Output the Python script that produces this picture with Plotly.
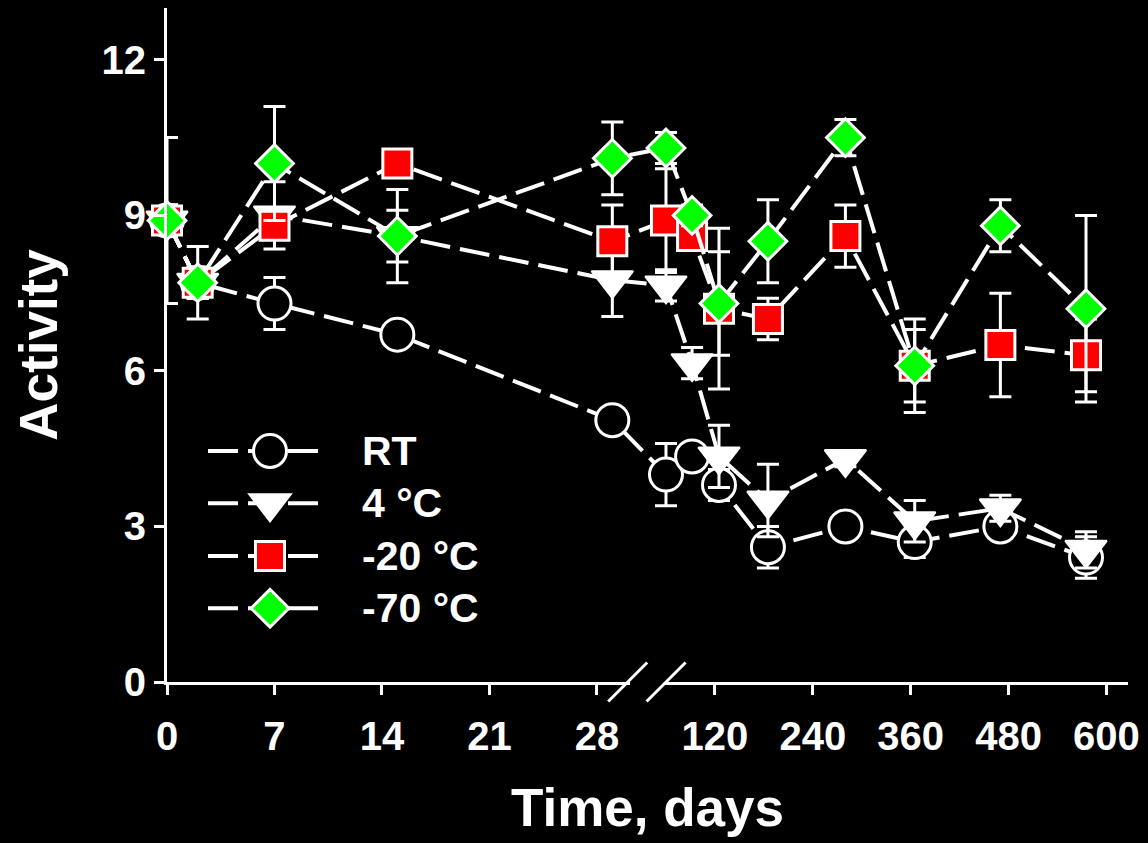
import plotly.graph_objects as go

# ---------------- data ----------------
days = [0, 2, 7, 15, 29, 60, 92, 125, 185, 280, 365, 470, 575]
series_names = ["RT", "4 °C", "-20 °C", "-70 °C"]

rt_vals = [8.9, 7.7, 7.3, 6.7, 5.05, 4.0, 4.35, 3.8, 2.6, 3.0, 2.7, 3.0, 2.4]
rt_err = [1.6, 0.7, 0.5, 0.1, 0.1, 0.6, 0.1, 0.3, 0.4, 0.15, 0.3, 0.2, 0.4]

c4_vals = [8.9, 7.7, 9.0, 8.6, 7.75, 7.65, 6.15, 4.35, 3.5, 4.3, 3.1, 3.35, 2.55]
c4_err = [0.3, 0.3, 0.65, 0.9, 0.7, 0.3, 0.3, 0.6, 0.7, 0.15, 0.4, 0.25, 0.35]

m20_vals = [8.9, 7.7, 8.8, 10.0, 8.5, 8.9, 8.6, 7.2, 7.0, 8.6, 6.1, 6.5, 6.3]
m20_err = [0.3, 0.3, 0.15, 0.1, 0.7, 1.0, 0.2, 1.55, 0.4, 0.6, 0.9, 1.0, 0.7]

m70_vals = [8.9, 7.7, 10.0, 8.6, 10.1, 10.3, 9.0, 7.3, 8.5, 10.5, 6.1, 8.8, 7.2]
m70_err = [0.3, 0.3, 1.1, 0.5, 0.7, 0.3, 0.2, 1.0, 0.8, 0.35, 0.7, 0.5, 1.8]

tick_days = [0, 7, 14, 21, 28, 120, 240, 360, 480, 600]
tick_labels = ["0", "7", "14", "21", "28", "120", "240", "360", "480", "600"]

# ---------------- broken-axis scale ----------------
BREAK_AT = 30.0      # end of the linear (days) segment, in axis units
RESUME_AT = 32.5     # start of the compressed segment, in axis units
R_ANCHOR_DAY = 120
R_ANCHOR_POS = 35.68
R_SCALE = 0.05311
X_MAX = 62.58


def xpos(d):
    return d if d <= BREAK_AT else R_ANCHOR_POS + (d - R_ANCHOR_DAY) * R_SCALE


xs = [xpos(d) for d in days]

FONT = "Liberation Sans, Arial, sans-serif"
WHITE = "#ffffff"
DASH = "30px,10px"

styles = [
    dict(symbol="circle", size=33, color="#000000", lw=3),
    dict(symbol="triangle-down", size=36, color=WHITE, lw=2),
    dict(symbol="square", size=29, color="#ff0000", lw=3),
    dict(symbol="diamond", size=29, color="#00ff00", lw=3),
]
values = [rt_vals, c4_vals, m20_vals, m70_vals]
errors = [rt_err, c4_err, m20_err, m70_err]

fig = go.Figure()
for name, vals, err, st in zip(series_names, values, errors, styles):
    fig.add_trace(go.Scatter(
        x=xs, y=vals, name=name, mode="lines+markers",
        line=dict(color=WHITE, width=4, dash=DASH),
        marker=dict(symbol=st["symbol"], size=st["size"], color=st["color"],
                    line=dict(color=WHITE, width=st["lw"])),
        error_y=dict(type="data", array=err, visible=True, color=WHITE,
                     thickness=3, width=11),
        cliponaxis=False, showlegend=False,
    ))

# plot area geometry (pixels)
L, R, T, B = 167, 20, 8, 161
W_PX = 1148 - L - R
H_PX = 843 - T - B


def px_to_paper_x(px):
    return (px - L) / W_PX


def px_to_paper_y(py):
    return (843 - B - py) / H_PX


shapes = []
# gap in the x axis line + break marks
shapes.append(dict(type="line", xref="x", yref="paper", x0=BREAK_AT + 0.15,
                   x1=RESUME_AT - 0.15, y0=0, y1=0,
                   line=dict(color="#000000", width=7), layer="above"))
for xa in (BREAK_AT, RESUME_AT):
    shapes.append(dict(type="line", xref="x", yref="paper",
                       xsizemode="pixel", ysizemode="pixel",
                       xanchor=xa, yanchor=0,
                       x0=-19.5, x1=19.5, y0=-19.5, y1=19.5,
                       line=dict(color=WHITE, width=3), layer="above"))

# custom legend (keys drawn with shapes)
annotations = []
leg_rows_px = [451, 503.3, 556, 608.3]
for name, st, ypx in zip(series_names, styles, leg_rows_px):
    yp = px_to_paper_y(ypx)
    shapes.append(dict(type="line", xref="paper", yref="paper",
                       x0=px_to_paper_x(208), x1=px_to_paper_x(318), y0=yp, y1=yp,
                       line=dict(color=WHITE, width=4, dash=DASH), layer="above"))
    xc = px_to_paper_x(270)
    base = dict(xref="paper", yref="paper", xsizemode="pixel", ysizemode="pixel",
                xanchor=xc, yanchor=yp, fillcolor=st["color"],
                line=dict(color=WHITE, width=st["lw"]), layer="above")
    r = st["size"] / 2
    if st["symbol"] == "circle":
        shapes.append(dict(type="circle", x0=-r, x1=r, y0=-r, y1=r, **base))
    elif st["symbol"] == "square":
        shapes.append(dict(type="rect", x0=-r, x1=r, y0=-r, y1=r, **base))
    elif st["symbol"] == "diamond":
        rd = 1.3 * r
        shapes.append(dict(type="path",
                           path=f"M{-rd},0 L0,{rd} L{rd},0 L0,{-rd} Z", **base))
    else:
        rt = r * 2 / 3 ** 0.5
        shapes.append(dict(type="path",
                           path=f"M{-rt},{r/2} L{rt},{r/2} L0,{-r} Z", **base))
    annotations.append(dict(xref="paper", yref="paper", x=px_to_paper_x(360), y=yp,
                            xanchor="left", yanchor="middle", showarrow=False,
                            text=name, font=dict(family=FONT, size=41, color=WHITE,
                                                 weight="bold")))

axis_common = dict(showgrid=False, zeroline=False, showline=True, linecolor=WHITE,
                   linewidth=3, ticks="outside", ticklen=10, tickwidth=3,
                   tickcolor=WHITE,
                   tickfont=dict(family=FONT, size=40, color=WHITE, weight="bold"))

fig.update_layout(
    width=1148, height=843,
    paper_bgcolor="#000000", plot_bgcolor="#000000",
    margin=dict(l=L, r=R, t=T, b=B),
    showlegend=False,
    xaxis=dict(range=[0, X_MAX], tickmode="array",
               tickvals=[xpos(d) for d in tick_days], ticktext=tick_labels,
               ticklabelstandoff=7,
               title=dict(text="Time, days", standoff=32,
                          font=dict(family=FONT, size=53, color=WHITE, weight="bold")),
               **axis_common),
    yaxis=dict(range=[0, 13], tickmode="array", tickvals=[0, 3, 6, 9, 12],
               title=dict(text="Activity", standoff=27,
                          font=dict(family=FONT, size=53, color=WHITE, weight="bold")),
               **axis_common),
    shapes=shapes,
    annotations=annotations,
)

fig.write_html("out.html")
